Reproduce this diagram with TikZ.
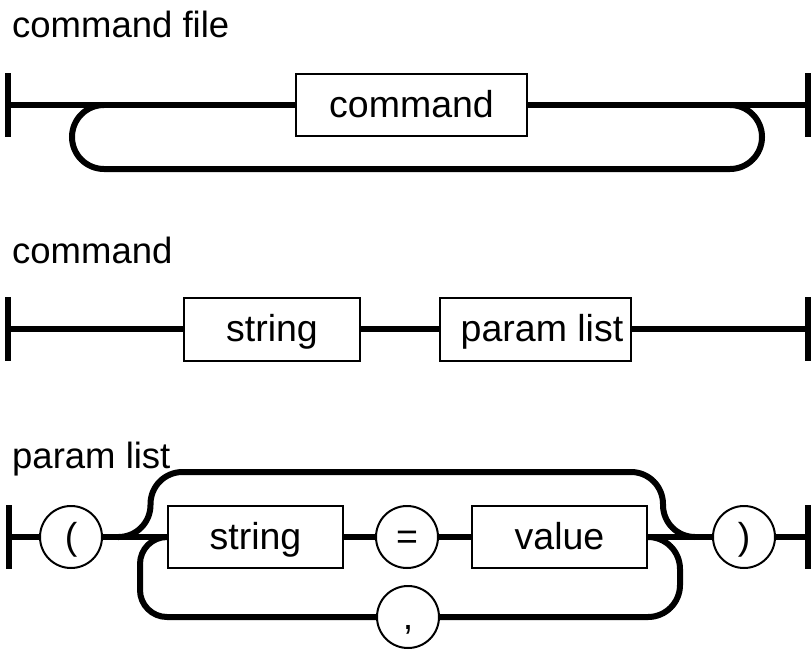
\documentclass[tikz,border=0pt]{standalone}
\usepackage{fontspec}
\setmainfont{Liberation Sans}
\begin{document}
\begin{tikzpicture}[x=1pt,y=-1pt,
  rail/.style={line width=6pt},
  endbar/.style={line width=6pt},
  txt/.style={font=\fontsize{37.5}{40}\selectfont},
  box/.style={draw, line width=2pt, inner sep=0pt, text height=26pt, text depth=1pt, txt},
  term/.style={draw, circle, line width=2pt, minimum size=62pt, inner sep=0pt, text height=26pt, text depth=1pt, txt},
  title/.style={anchor=base west, inner sep=0pt, font=\fontsize{36.5}{40}\selectfont}]
\useasboundingbox (0,0) rectangle (811,651);

% ---- command file ----
\node[title] (t1) at (12,37) {command file};
\coordinate (s1) at (8,105);
\coordinate (e1) at (808,105);
\draw[endbar] (s1) ++(0,-32) -- ++(0,64);
\draw[endbar] (e1) ++(0,-32) -- ++(0,64);
\node[box, minimum width=231pt, minimum height=62pt] (cmd) at (411.5,105) {command};
\draw[rail] (s1) -- (cmd);
\draw[rail] (cmd) -- (e1);
\coordinate (l1) at (104,105);
\coordinate (r1) at (730,105);
\draw[rail, rounded corners=32pt] (r1) -- (762,105) -- (762,169) -- (72,169) -- (72,105) -- (l1);

% ---- command ----
\node[title] (t2) at (12,263) {command};
\coordinate (s2) at (8,329);
\coordinate (e2) at (808,329);
\draw[endbar] (s2) ++(0,-32) -- ++(0,64);
\draw[endbar] (e2) ++(0,-32) -- ++(0,64);
\node[box, minimum width=176pt, minimum height=63pt] (str1) at (272,329) {string};
\node[box, minimum width=191pt, minimum height=63pt] (pl) at (535.5,329) {\hspace*{13pt}param list};
\draw[rail] (s2) -- (str1);
\draw[rail] (str1) -- (pl);
\draw[rail] (pl) -- (e2);

% ---- param list ----
\node[title] (t3) at (12,468) {param list};
\coordinate (s3) at (9,537);
\coordinate (e3) at (808,537);
\draw[endbar] (s3) ++(0,-32) -- ++(0,64);
\draw[endbar] (e3) ++(0,-32) -- ++(0,64);
\node[term] (lp) at (71,537) {(};
\node[box, minimum width=175pt, minimum height=62pt] (str2) at (255.5,537) {string};
\node[term] (eq) at (407,537) {=};
\node[box, minimum width=175pt, minimum height=62pt] (val) at (559.5,537) {value};
\node[term] (rp) at (744,537) {)};
\node[term] (comma) at (408,617) {,};
\draw[rail] (s3) -- (lp);
\draw[rail] (lp) -- (str2);
\draw[rail] (str2) -- (eq);
\draw[rail] (eq) -- (val);
\draw[rail] (val) -- (rp);
\draw[rail] (rp) -- (e3);
\coordinate (tb1) at (118,537);
\coordinate (tb2) at (695,537);
\draw[rail, rounded corners=32pt] (tb1) -- (150.5,537) -- (150.5,472) -- (663,472) -- (663,537) -- (tb2);
\coordinate (bl) at (167,537);
\coordinate (br) at (648,537);
\draw[rail, rounded corners=27pt] (bl) -- (140,537) -- (140,617) -- (comma);
\draw[rail, rounded corners=32pt] (comma) -- (680,617) -- (680,537) -- (br);
\end{tikzpicture}
\end{document}
